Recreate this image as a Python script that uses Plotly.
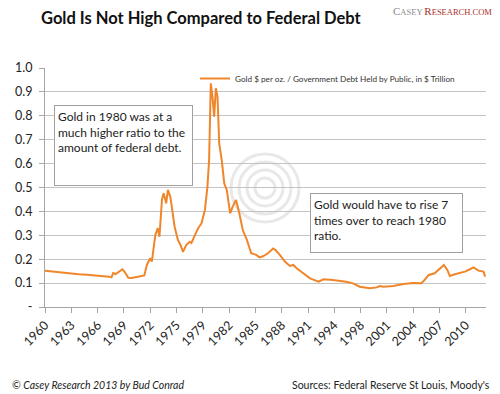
import plotly.graph_objects as go

# ---- data ----
years = [1960.0, 1961.0, 1962.0, 1963.0, 1964.0, 1965.0, 1966.0, 1967.0, 1967.6, 1967.9,
         1968.1, 1968.4, 1968.7, 1969.2, 1969.5, 1969.9, 1970.3, 1970.9, 1971.4, 1971.8,
         1972.1, 1972.5, 1972.7, 1973.1, 1973.4, 1973.6, 1973.9, 1974.1, 1974.4, 1974.6,
         1974.9, 1975.1, 1975.4, 1975.8, 1976.1, 1976.4, 1976.8, 1977.2, 1977.4, 1977.8,
         1978.2, 1978.6, 1979.0, 1979.3, 1979.5, 1979.7, 1979.9, 1980.1, 1980.3, 1980.5,
         1980.7, 1981.0, 1981.3, 1981.6, 1982.0, 1982.3, 1982.7, 1983.1, 1983.5, 1984.0,
         1984.5, 1985.1, 1985.5, 1985.9, 1986.5, 1987.1, 1987.4, 1987.9, 1988.5, 1989.1,
         1989.5, 1989.9, 1990.7, 1991.5, 1992.5, 1993.1, 1994.2, 1995.8, 1996.6, 1997.4,
         1998.6, 1999.4, 1999.8, 2000.2, 2001.4, 2002.6, 2003.7, 2004.7, 2005.1, 2005.6,
         2006.3, 2006.9, 2007.4, 2007.8, 2008.1, 2008.7, 2009.3, 2009.9, 2010.5, 2010.9,
         2011.5, 2012.1, 2012.3]
ratio = [0.152, 0.148, 0.143, 0.139, 0.137, 0.135, 0.133, 0.130, 0.127, 0.124,
         0.142, 0.138, 0.146, 0.158, 0.145, 0.122, 0.121, 0.125, 0.130, 0.132,
         0.176, 0.204, 0.190, 0.300, 0.330, 0.294, 0.450, 0.476, 0.434, 0.490,
         0.460, 0.410, 0.336, 0.280, 0.260, 0.231, 0.260, 0.273, 0.268, 0.300,
         0.330, 0.350, 0.406, 0.503, 0.615, 0.936, 0.880, 0.796, 0.915, 0.880,
         0.685, 0.615, 0.517, 0.490, 0.392, 0.420, 0.448, 0.390, 0.322, 0.280,
         0.225, 0.218, 0.208, 0.212, 0.225, 0.245, 0.238, 0.218, 0.190, 0.172,
         0.176, 0.162, 0.141, 0.120, 0.106, 0.116, 0.113, 0.106, 0.099, 0.085,
         0.078, 0.082, 0.088, 0.085, 0.088, 0.096, 0.100, 0.099, 0.113, 0.134,
         0.141, 0.158, 0.176, 0.155, 0.130, 0.137, 0.141, 0.148, 0.158, 0.166,
         0.152, 0.148, 0.127]
x_tick_labels = ["1960", "1963", "1966", "1969", "1972", "1975", "1979", "1982", "1985",
                 "1988", "1991", "1994", "1998", "2001", "2004", "2007", "2010"]
y_tick_values = [0, 0.1, 0.2, 0.3, 0.4, 0.5, 0.6, 0.7, 0.8, 0.9, 1.0]
y_tick_labels = ["-", "0.1", "0.2", "0.3", "0.4", "0.5", "0.6", "0.7", "0.8", "0.9", "1.0"]
series_name = "Gold $ per oz. / Government Debt Held by Public, in $ Trillion"

FONT = "Lato"
ORANGE = "#F0862A"

x_tick_vals = [1960 + i * 3.125 for i in range(len(x_tick_labels))]

fig = go.Figure()
fig.add_trace(go.Scatter(x=years, y=ratio, mode="lines", name=series_name,
                         line=dict(color=ORANGE, width=2)))

# plot-area pixel helpers (for decorations only)
L, R, T, B = 45, 486, 68, 307
def px(xp):
    return (xp - L) / (R - L)
def py(yp):
    return (B - yp) / (B - T)

shapes = []
# faint watermark circles
for r in [10, 18, 26, 34]:
    cx, cy = 265, 188
    shapes.append(dict(type="circle", xref="paper", yref="paper", layer="below",
                       x0=px(cx - r), x1=px(cx + r), y0=py(cy + r), y1=py(cy - r),
                       line=dict(color="#e8e8e8", width=3)))

fig.update_layout(
    width=500, height=394,
    margin=dict(l=L, r=500 - R, t=T, b=394 - B, pad=0, autoexpand=False),
    paper_bgcolor="white", plot_bgcolor="white",
    font=dict(family=FONT, color="#222"),
    showlegend=True,
    legend=dict(x=px(195), y=py(64), xanchor="left", yanchor="top",
                font=dict(size=8.2, family=FONT, color="#333"),
                bgcolor="rgba(0,0,0,0)", itemwidth=30, tracegroupgap=0),
    xaxis=dict(range=[1960, 2012.4], tickmode="array", tickvals=x_tick_vals,
               ticktext=x_tick_labels, tickangle=-45, showgrid=False, automargin=False,
               showline=True, linecolor="#a6a6a6", linewidth=1,
               ticks="outside", ticklen=5, tickcolor="#a6a6a6",
               tickfont=dict(size=12.5, family=FONT, color="#222"), zeroline=False),
    yaxis=dict(range=[0, 1.0], tickmode="array", tickvals=y_tick_values, automargin=False,
               ticktext=y_tick_labels, showgrid=True, gridcolor="#c4c4c4", gridwidth=1,
               showline=True, linecolor="#a6a6a6", linewidth=1,
               ticks="outside", ticklen=5, tickcolor="#a6a6a6",
               tickfont=dict(size=12.5, family=FONT, color="#222"), zeroline=False,
               ticklabelstandoff=4),
    shapes=shapes,
)

annotations = [
    dict(text="<b>Gold Is Not High Compared to Federal Debt</b>", xref="paper", yref="paper",
         x=px(39), y=py(18), xanchor="left", yanchor="middle", showarrow=False,
         font=dict(size=16.5, family=FONT, color="#111")),
    dict(text="<span style='font-size:11px'>C</span>ASEY "
              "<span style='color:#a8322b'><span style='font-size:11px'>R</span>ESEARCH.COM</span>",
         xref="paper", yref="paper", x=px(494), y=py(11), xanchor="right", yanchor="middle",
         showarrow=False, font=dict(size=8.5, family="Liberation Serif", color="#8a8a8a")),
    dict(text="Gold in 1980 was at a<br>much higher ratio to the<br>amount of federal debt.",
         xref="paper", yref="paper", x=px(54), y=py(105), xanchor="left", yanchor="top",
         showarrow=False, align="left", valign="top", width=131, height=73, borderpad=3,
         bgcolor="white", bordercolor="#a0a0a0", borderwidth=1,
         font=dict(size=12, family=FONT, color="#222")),
    dict(text="Gold would have to rise 7<br>times over to reach 1980<br>ratio.",
         xref="paper", yref="paper", x=px(310), y=py(193), xanchor="left", yanchor="top",
         showarrow=False, align="left", valign="top", width=145, height=52, borderpad=3,
         bgcolor="white", bordercolor="#a0a0a0", borderwidth=1,
         font=dict(size=12, family=FONT, color="#222")),
    dict(text="<i>© Casey Research 2013 by Bud Conrad</i>", xref="paper", yref="paper",
         x=px(10), y=py(385), xanchor="left", yanchor="middle", showarrow=False,
         font=dict(size=10.5, family=FONT, color="#222")),
    dict(text="Sources: Federal Reserve St Louis, Moody's", xref="paper", yref="paper",
         x=px(492), y=py(385), xanchor="right", yanchor="middle", showarrow=False,
         font=dict(size=10.5, family=FONT, color="#222")),
]
fig.update_layout(annotations=annotations)

fig.write_html("out.html", config={"displayModeBar": False},
               post_script="document.body.style.margin='0';")
